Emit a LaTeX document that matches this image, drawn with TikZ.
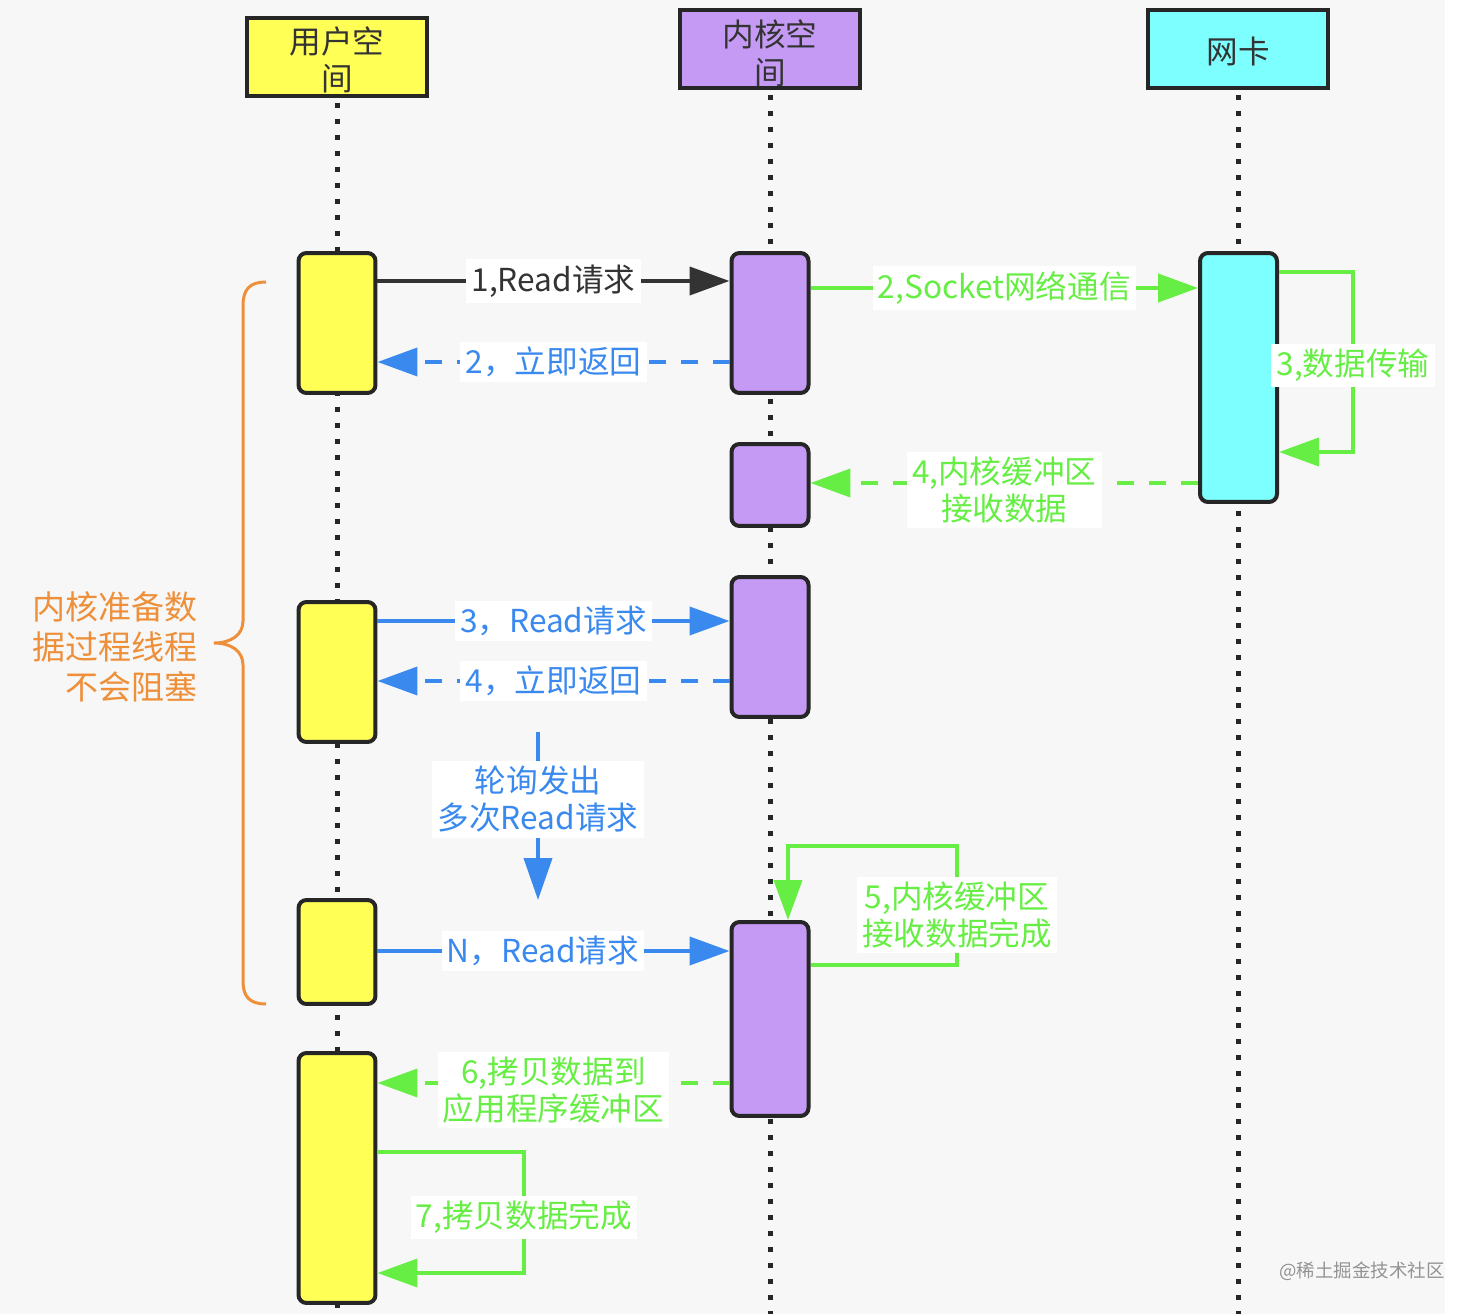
\documentclass[tikz,border=0pt]{standalone}
\usepackage{fontspec}
\setmainfont{Noto Sans CJK SC}
\usetikzlibrary{arrows.meta,calc}
\definecolor{cyel}{HTML}{FFFF55}
\definecolor{cpur}{HTML}{C59AF5}
\definecolor{ccya}{HTML}{7DFFFF}
\definecolor{cdark}{HTML}{262626}
\definecolor{cblk}{HTML}{333333}
\definecolor{cgrn}{HTML}{66EE44}
\definecolor{cblu}{HTML}{3A89EE}
\definecolor{corg}{HTML}{EE8F3A}
\definecolor{cbg}{HTML}{F7F7F7}
\begin{document}
\begin{tikzpicture}[x=0.02cm,y=-0.02cm,
  hdr/.style={draw=cdark, line width=0.08cm, minimum width=3.6cm, minimum height=1.56cm, inner sep=0pt},
  hdrtxt/.style={inner sep=0pt, align=center, text=cblk, font=\fontsize{18pt}{21.5pt}\selectfont},
  act/.style={draw=cdark, line width=0.08cm, rounded corners=0.16cm, minimum width=1.54cm, inner sep=0pt},
  life/.style={line width=0.1cm, dash pattern=on 0.1cm off 0.22cm, cdark},
  lbl/.style={fill=white, inner sep=3pt, align=center, font=\fontsize{18pt}{21pt}\selectfont},
  tipA/.style={-{Triangle[length=0.8cm,width=0.56cm]}},
  msg/.style={line width=0.08cm, tipA},
  dsh/.style={dash pattern=on 0.34cm off 0.3cm}
]
\useasboundingbox (0,0) rectangle (1474,1314);
\fill[cbg] (0,0) rectangle (1445,1314);
\fill[white] (1445,0) rectangle (1474,1314);

% headers
\node[hdr, fill=cyel] (UH) at (337,57) {};
\node[hdr, fill=cpur] (KH) at (770,49) {};
\node[hdr, fill=ccya] (NH) at (1238,49) {};
\node[hdrtxt] (UHt) at (337,60) {用户空\\间};
\node[hdrtxt] (KHt) at (770,53.5) {内核空\\间};
\node[hdrtxt] (NHt) at (1238,51) {网卡};

% lifelines
\draw[life] ([yshift=-0.1cm]UH.south) -- (UH.south |- 0,1314);
\draw[life] ([yshift=-0.1cm]KH.south) -- (KH.south |- 0,1314);
\draw[life] ([yshift=-0.1cm]NH.south) -- (NH.south |- 0,1314);

% activation boxes
\node[act, fill=cyel, minimum height=2.8cm] (U1) at (337,323) {};
\node[act, fill=cyel, minimum height=2.8cm] (U2) at (337,672) {};
\node[act, fill=cyel, minimum height=2.08cm] (U3) at (337,952) {};
\node[act, fill=cyel, minimum height=5cm] (U4) at (337,1178) {};
\node[act, fill=cpur, minimum height=2.8cm] (K1) at (770,323) {};
\node[act, fill=cpur, minimum height=1.64cm] (K2) at (770,485) {};
\node[act, fill=cpur, minimum height=2.8cm] (K3) at (770,647) {};
\node[act, fill=cpur, minimum height=3.88cm] (K4) at (770,1019) {};
\node[act, fill=ccya, minimum height=4.98cm] (N1) at (1238.5,377.5) {};

% 1 Read request
\draw[msg, cblk] (U1.east |- 0,281) -- node[lbl, text=cblk] (L1) {1,Read请求} (K1.west |- 0,281);
% 2 return
\draw[msg, dsh, cblu] (K1.west |- 0,362) -- node[lbl, text=cblu] (L2) {2，立即返回} (U1.east |- 0,362);
% socket
\draw[msg, cgrn] (K1.east |- 0,288) -- node[lbl, text=cgrn] (L3) {2,Socket网络通信} (N1.west |- 0,288);
% 3 data transfer loop
\draw[msg, cgrn] (N1.east |- 0,272) -- (1353,272) -- node[lbl, text=cgrn, pos=0.52] (L4) {3,数据传输} (1353,452) -- (N1.east |- 0,452);
% 4 kernel buffer receive
\draw[msg, dsh, cgrn] (N1.west |- 0,483) -- node[lbl, text=cgrn, pos=0.5, yshift=-0.14cm] (L5) {4,内核缓冲区\\接收数据} (K2.east |- 0,483);
% 3 read
\draw[msg, cblu] (U2.east |- 0,621) -- node[lbl, text=cblu] (L6) {3，Read请求} (K3.west |- 0,621);
% 4 return
\draw[msg, dsh, cblu] (K3.west |- 0,681) -- node[lbl, text=cblu] (L7) {4，立即返回} (U2.east |- 0,681);
% polling
\coordinate (P1) at (538,732);
\coordinate (P2) at (538,900);
\draw[line width=0.08cm, cblu, -{Triangle[length=0.84cm,width=0.56cm]}] (P1) -- node[lbl, text=cblu, pos=0.4] (L8) {轮询发出\\多次Read请求} (P2);
% N read
\draw[msg, cblu] (U3.east |- 0,951) -- node[lbl, text=cblu, pos=0.47] (L9) {N，Read请求} (K4.west |- 0,951);
% 5 loop
\draw[msg, cgrn] (K4.east |- 0,965) -- (957,965) -- node[lbl, text=cgrn, pos=0.42] (L10) {5,内核缓冲区\\接收数据完成} (957,846) -- (788,846) -- (788,0 |- K4.north);
% 6 copy
\draw[msg, dsh, cgrn] (K4.west |- 0,1083) -- node[lbl, text=cgrn, pos=0.5, yshift=-0.14cm] (L11) {6,拷贝数据到\\应用程序缓冲区} (U4.east |- 0,1083);
% 7 loop
\draw[msg, cgrn] (U4.east |- 0,1152) -- (524,1152) -- node[lbl, text=cgrn, pos=0.54] (L12) {7,拷贝数据完成} (524,1273) -- (U4.east |- 0,1273);

% brace
\draw[corg, line width=0.06cm] (266,282) .. controls (249,282) and (243,290) .. (243,306) -- (243,621) .. controls (243,635) and (231,643) .. (214,643) .. controls (231,643) and (243,651) .. (243,665) -- (243,981) .. controls (243,996) and (249,1004) .. (266,1004);
\node[anchor=east, align=right, text=corg, inner sep=0pt, font=\fontsize{18.8pt}{22.9pt}\selectfont] (BL) at (198,647) {内核准备数\\据过程线程\\不会阻塞};

% watermark
\node[text=gray!85, inner sep=0pt, font=\fontsize{10.5pt}{12pt}\selectfont] (WM) at (1362,1271) {@稀土掘金技术社区};
\end{tikzpicture}
\end{document}
